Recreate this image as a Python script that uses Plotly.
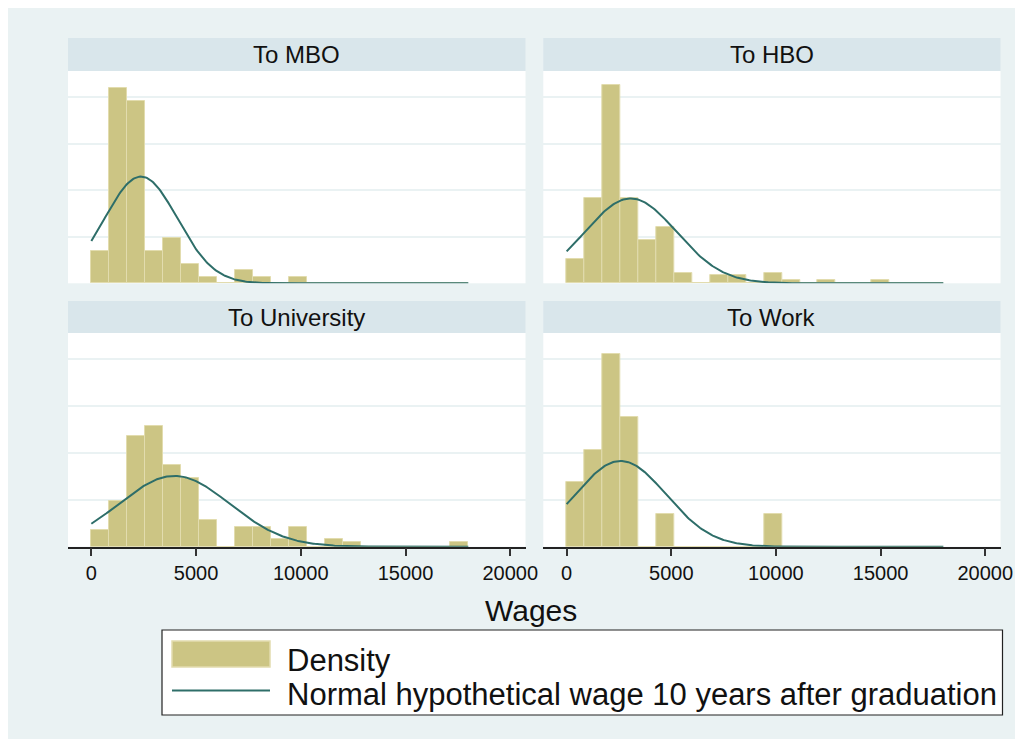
import numpy as np
import plotly.graph_objects as go

PAGE_W, PAGE_H = 1023, 747
OFFSET = 8  # browser body margin; pixel positions below are page positions
W, H = PAGE_W - 2 * OFFSET, PAGE_H - 2 * OFFSET

# Histogram bins shared by all panels
BIN_START = 0.0
BIN_WIDTH = 857.14
N_BINS = 21

groups = ["To MBO", "To HBO", "To University", "To Work"]

# Density per bin
dens_mbo = [0.70e-4, 4.19e-4, 3.91e-4, 0.70e-4, 0.97e-4, 0.41e-4, 0.13e-4, 0, 0.29e-4, 0.13e-4,
            0, 0.13e-4, 0, 0, 0, 0, 0, 0, 0, 0, 0]
dens_hbo = [0.52e-4, 1.84e-4, 4.27e-4, 1.84e-4, 0.93e-4, 1.22e-4, 0.23e-4, 0, 0.17e-4, 0.17e-4,
            0, 0.23e-4, 0.07e-4, 0, 0.07e-4, 0, 0, 0.07e-4, 0, 0, 0]
dens_uni = [0.36e-4, 0.97e-4, 2.37e-4, 2.57e-4, 1.75e-4, 1.46e-4, 0.57e-4, 0, 0.42e-4, 0.42e-4,
            0.16e-4, 0.42e-4, 0, 0.16e-4, 0.09e-4, 0, 0, 0, 0, 0, 0.09e-4]
dens_work = [1.38e-4, 2.06e-4, 4.11e-4, 2.76e-4, 0, 0.70e-4, 0, 0, 0, 0,
             0, 0.70e-4, 0, 0, 0, 0, 0, 0, 0, 0, 0]
densities = [dens_mbo, dens_hbo, dens_uni, dens_work]

# Normal overlay parameters per group (mean, sd of wages)
wage_mean = [2370, 3060, 3960, 2580]
wage_sd = [1740, 2190, 2640, 2180]
CURVE_MIN, CURVE_MAX = 0, 18000

xticks = [0, 5000, 10000, 15000, 20000]
xtick_text = ["0", "5000", "10000", "15000", "20000"]
ygrid = [1e-4, 2e-4, 3e-4, 4e-4]

BG = "#EAF2F3"
STRIP = "#D9E6EB"
BAR = "#CCC584"
BAR_EDGE = "#E2DCAE"
LINE = "#2E6E69"
FONT = "Liberation Sans, Arial, sans-serif"


def px_x(p):
    return (p - OFFSET) / W


def px_y(p):
    return 1 - (p - OFFSET) / H


# panel pixel boxes: (x0, x1, strip_top, plot_top, plot_bottom)
panels = [
    (68, 525.5, 38, 71, 283.3),
    (543.3, 1000.5, 38, 71, 283.3),
    (68, 525.5, 301, 333, 546.7),
    (543.3, 1000.5, 301, 333, 546.7),
]

fig = go.Figure()
centers = [BIN_START + BIN_WIDTH * (i + 0.5) for i in range(N_BINS)]
xs = np.linspace(CURVE_MIN, CURVE_MAX, 300)

shapes = []
annotations = []
for i, (x0, x1, st, pt, pb) in enumerate(panels):
    xa = "x" if i == 0 else f"x{i + 1}"
    ya = "y" if i == 0 else f"y{i + 1}"
    fig.add_trace(go.Bar(
        x=centers, y=densities[i], width=BIN_WIDTH,
        marker=dict(color=BAR, line=dict(color=BAR_EDGE, width=1)),
        xaxis=xa, yaxis=ya, showlegend=False, name="Density",
    ))
    m, s = wage_mean[i], wage_sd[i]
    ys = np.exp(-0.5 * ((xs - m) / s) ** 2) / (s * np.sqrt(2 * np.pi))
    fig.add_trace(go.Scatter(
        x=xs, y=ys, mode="lines", line=dict(color=LINE, width=2),
        xaxis=xa, yaxis=ya, showlegend=False,
        name="Normal hypothetical wage 10 years after graduation",
    ))
    bottom = i >= 2
    xkey = "xaxis" if i == 0 else f"xaxis{i + 1}"
    ykey = "yaxis" if i == 0 else f"yaxis{i + 1}"
    fig.update_layout(**{
        xkey: dict(
            domain=[px_x(x0), px_x(x1)], anchor=ya, range=[-1115, 20730],
            tickvals=xticks, ticktext=xtick_text, showticklabels=bottom,
            showgrid=False, zeroline=False, automargin=False,
            showline=bottom, linecolor="#222", linewidth=1.5,
            ticks="outside" if bottom else "", ticklen=8, tickwidth=1.5, tickcolor="#333",
            tickfont=dict(size=20, color="#111", family=FONT),
        ),
        ykey: dict(
            domain=[px_y(pb), px_y(pt)], anchor=xa, range=[0, 4.56e-4],
            tickvals=ygrid, showticklabels=False, showgrid=True, gridcolor=BG, gridwidth=1.5,
            zeroline=False, showline=False, automargin=False,
        ),
    })
    shapes.append(dict(type="rect", xref="paper", yref="paper",
                       x0=px_x(x0), x1=px_x(x1), y0=px_y(pt), y1=px_y(st),
                       fillcolor=STRIP, line=dict(width=0), layer="below"))
    annotations.append(dict(text=groups[i], xref="paper", yref="paper",
                            x=px_x((x0 + x1) / 2), y=px_y((st + pt) / 2),
                            showarrow=False, xanchor="center", yanchor="middle",
                            font=dict(size=24, color="#111", family=FONT)))

# x axis title
annotations.append(dict(text="Wages", xref="paper", yref="paper", x=px_x(531), y=px_y(610),
                        showarrow=False, xanchor="center", yanchor="middle",
                        font=dict(size=30, color="#111", family=FONT)))

# legend box
shapes.append(dict(type="rect", xref="paper", yref="paper",
                   x0=px_x(162), x1=px_x(1002.5), y0=px_y(715), y1=px_y(630),
                   fillcolor="white", line=dict(color="#222", width=1.2)))
shapes.append(dict(type="rect", xref="paper", yref="paper",
                   x0=px_x(172), x1=px_x(270), y0=px_y(667), y1=px_y(641),
                   fillcolor=BAR, line=dict(color=BAR_EDGE, width=1.5)))
shapes.append(dict(type="line", xref="paper", yref="paper",
                   x0=px_x(172), x1=px_x(270), y0=px_y(690.5), y1=px_y(690.5),
                   line=dict(color=LINE, width=2)))
annotations.append(dict(text="Density", xref="paper", yref="paper", x=px_x(285), y=px_y(660),
                        showarrow=False, xanchor="left", yanchor="middle",
                        font=dict(size=31, color="#111", family=FONT)))
annotations.append(dict(text="Normal hypothetical wage 10 years after graduation",
                        xref="paper", yref="paper", x=px_x(285), y=px_y(694),
                        showarrow=False, xanchor="left", yanchor="middle",
                        font=dict(size=31, color="#111", family=FONT)))

fig.update_layout(
    width=W, height=H, margin=dict(l=0, r=0, t=0, b=0, autoexpand=False),
    paper_bgcolor=BG, plot_bgcolor="white",
    shapes=shapes, annotations=annotations,
    showlegend=False, bargap=0, barmode="overlay",
    font=dict(family=FONT),
)

fig.write_html("out.html")
